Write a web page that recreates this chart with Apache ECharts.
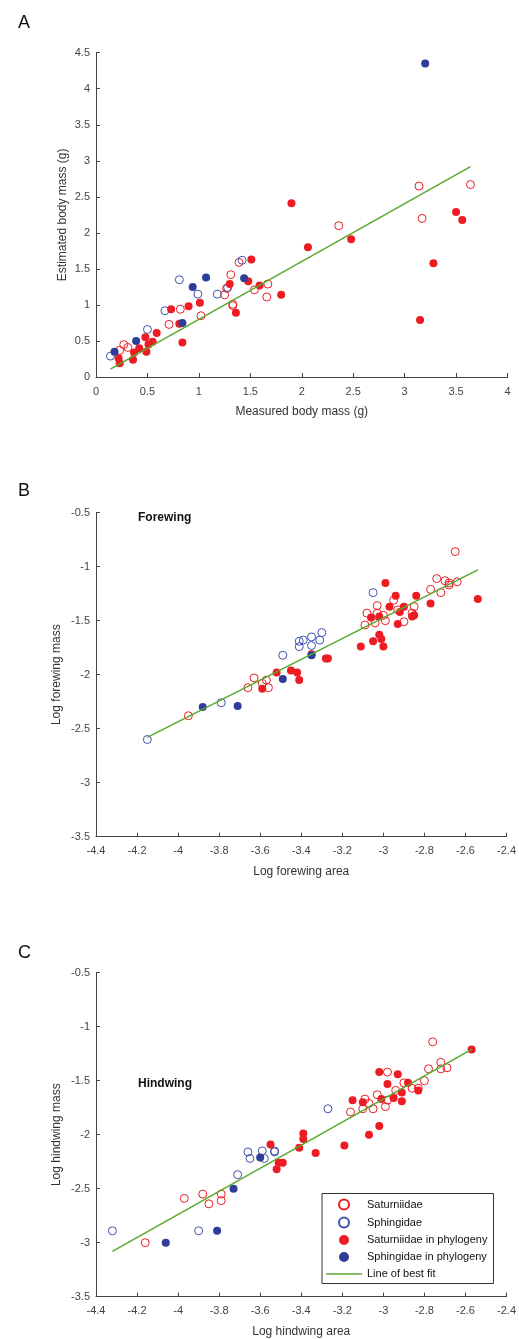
<!DOCTYPE html>
<html>
<head>
<meta charset="utf-8">
<script src="https://cdn.jsdelivr.net/npm/echarts@6/dist/echarts.min.js"></script>
<style>
    html, body { margin: 0; padding: 0; background: #fff; }
    #graph { width: 519px; height: 1339px; }
</style>
</head>
<body>
<div id="graph"></div>
<script>
"use strict"

// panel A: measured vs estimated body mass (g)
const aSatOpen = [[3.14,2.65],[3.64,2.67],[3.17,2.20],[2.36,2.10],[1.39,1.59],[1.31,1.42],[1.27,1.23],[1.25,1.14],[1.33,1.01],[1.33,0.99],[1.67,1.29],[1.66,1.11],[1.54,1.21],[1.02,0.85],[0.82,0.94],[0.71,0.73],[0.27,0.45],[0.31,0.41],[0.23,0.37]];
const aSphOpen = [[0.14,0.29],[0.50,0.66],[0.67,0.92],[0.81,1.35],[0.99,1.15],[1.18,1.15],[1.28,1.24],[1.42,1.62]];
const aSatPhy = [[1.90,2.41],[2.06,1.80],[2.48,1.91],[3.50,2.29],[3.56,2.18],[3.28,1.58],[3.15,0.79],[1.80,1.14],[1.51,1.63],[1.48,1.33],[1.59,1.27],[1.30,1.29],[1.36,0.89],[1.01,1.03],[0.90,0.98],[0.73,0.94],[0.81,0.74],[0.84,0.48],[0.59,0.61],[0.55,0.49],[0.48,0.55],[0.49,0.35],[0.42,0.40],[0.37,0.34],[0.36,0.24],[0.22,0.26],[0.23,0.19],[0.51,0.45]];
const aSphPhy = [[3.20,4.35],[0.18,0.35],[0.39,0.50],[0.84,0.75],[0.94,1.25],[1.07,1.38],[1.44,1.37]];
const aFit = [[0.14,0.11],[3.64,2.92]];

// panel B: log forewing area vs log forewing mass
const bSatOpen = [[-3.95,-2.38],[-3.66,-2.12],[-3.63,-2.03],[-3.57,-2.05],[-3.56,-2.12],[-3.59,-2.08],[-2.65,-0.86],[-2.74,-1.11],[-2.70,-1.13],[-2.68,-1.15],[-2.72,-1.24],[-2.64,-1.14],[-2.68,-1.17],[-2.77,-1.21],[-2.85,-1.37],[-2.95,-1.31],[-3.03,-1.36],[-3.08,-1.43],[-3.00,-1.45],[-3.03,-1.43],[-2.99,-1.50],[-3.09,-1.54],[-3.04,-1.52],[-2.93,-1.40],[-2.90,-1.51],[-2.86,-1.43]];
const bSphOpen = [[-4.15,-2.60],[-3.79,-2.26],[-3.49,-1.82],[-3.41,-1.69],[-3.39,-1.68],[-3.41,-1.74],[-3.35,-1.73],[-3.35,-1.65],[-3.31,-1.68],[-3.30,-1.61],[-3.05,-1.24]];
const bSatPhy = [[-3.59,-2.13],[-3.52,-1.98],[-3.45,-1.96],[-3.42,-1.98],[-3.41,-2.05],[-3.35,-1.81],[-3.28,-1.85],[-3.27,-1.85],[-3.11,-1.74],[-3.05,-1.69],[-3.02,-1.63],[-3.01,-1.67],[-3.00,-1.74],[-2.99,-1.15],[-3.06,-1.47],[-3.02,-1.46],[-2.97,-1.37],[-2.94,-1.27],[-2.93,-1.53],[-2.90,-1.37],[-2.92,-1.42],[-2.86,-1.46],[-2.85,-1.45],[-2.84,-1.27],[-2.77,-1.34],[-2.54,-1.30]];
const bSphPhy = [[-3.88,-2.30],[-3.71,-2.29],[-3.49,-2.04],[-3.35,-1.82]];
const bFit = [[-4.15,-2.58],[-2.54,-1.03]];

// panel C: log hindwing area vs log hindwing mass
const cSatOpen = [[-4.16,-3.00],[-3.97,-2.59],[-3.88,-2.55],[-3.85,-2.64],[-3.79,-2.55],[-3.79,-2.61],[-2.76,-1.14],[-2.72,-1.33],[-2.69,-1.38],[-2.72,-1.39],[-2.78,-1.39],[-2.80,-1.50],[-2.98,-1.42],[-2.90,-1.52],[-2.86,-1.57],[-2.83,-1.57],[-3.03,-1.63],[-3.09,-1.67],[-3.07,-1.71],[-3.05,-1.76],[-3.10,-1.76],[-3.16,-1.79],[-2.99,-1.74],[-2.98,-1.68],[-2.94,-1.59]];
const cSphOpen = [[-4.32,-2.89],[-3.90,-2.89],[-3.71,-2.37],[-3.66,-2.16],[-3.65,-2.22],[-3.59,-2.15],[-3.58,-2.22],[-3.53,-2.15],[-3.53,-2.16],[-3.27,-1.76]];
const cSatPhy = [[-2.57,-1.21],[-3.02,-1.42],[-2.93,-1.44],[-2.98,-1.53],[-2.88,-1.52],[-2.83,-1.59],[-2.91,-1.61],[-2.95,-1.66],[-2.91,-1.69],[-3.01,-1.67],[-3.10,-1.70],[-3.15,-1.68],[-3.02,-1.92],[-3.07,-2.00],[-3.19,-2.10],[-3.33,-2.17],[-3.39,-1.99],[-3.39,-2.04],[-3.41,-2.12],[-3.55,-2.09],[-3.52,-2.32],[-3.51,-2.26],[-3.49,-2.26]];
const cSphPhy = [[-4.06,-3.00],[-3.81,-2.89],[-3.73,-2.50],[-3.60,-2.21]];
const cFit = [[-4.32,-3.08],[-2.57,-1.21]];

const names = ["Saturniidae", "Sphingidae", "Saturniidae in phylogeny", "Sphingidae in phylogeny", "Line of best fit"];

const RED = "#ed1c24", BLUE = "#2e3d9a", BLUE_OPEN = "#4252ad", GREEN = "#5aa82c";
const FONT = "Liberation Sans, Arial, Helvetica, sans-serif";

function panelSeries(idx, satOpen, sphOpen, satPhy, sphPhy, fit)
{
    const base = { type: "scatter", xAxisIndex: idx, yAxisIndex: idx, symbolSize: 8, animation: false };
    return [
        Object.assign({}, base, { name: names[0], data: satOpen, itemStyle: { color: "rgba(0,0,0,0)", borderColor: RED, borderWidth: 1, opacity: 1 } }),
        Object.assign({}, base, { name: names[1], data: sphOpen, itemStyle: { color: "rgba(0,0,0,0)", borderColor: BLUE_OPEN, borderWidth: 1, opacity: 1 } }),
        Object.assign({}, base, { name: names[2], data: satPhy, itemStyle: { color: RED, opacity: 1 } }),
        Object.assign({}, base, { name: names[3], data: sphPhy, itemStyle: { color: BLUE, opacity: 1 } }),
        { name: names[4], type: "line", xAxisIndex: idx, yAxisIndex: idx, data: fit, symbol: "none", showSymbol: false, animation: false,
          lineStyle: { color: GREEN, width: 1.5 }, itemStyle: { color: GREEN }, z: 5 }
    ];
}

const fmt = v => String(parseFloat(v.toFixed(2)));

function xAx(idx, min, max, interval, name)
{
    return {
        type: "value", gridIndex: idx, min: min, max: max, interval: interval,
        name: name, nameLocation: "middle", nameGap: 29,
        nameTextStyle: { color: "#333", fontSize: 12, fontFamily: FONT },
        axisLine: { lineStyle: { color: "#444", width: 1 } },
        axisTick: { inside: true, length: 4, lineStyle: { color: "#444" } },
        axisLabel: { color: "#444", fontSize: 11, fontFamily: FONT, margin: 9, formatter: fmt },
        splitLine: { show: false }
    };
}

function yAx(idx, min, max, interval, name, gap)
{
    return {
        type: "value", gridIndex: idx, min: min, max: max, interval: interval,
        name: name, nameLocation: "middle", nameGap: gap, nameRotate: 90, nameMoveOverlap: false,
        nameTextStyle: { color: "#333", fontSize: 12, fontFamily: FONT },
        axisLine: { show: true, lineStyle: { color: "#444", width: 1 } },
        axisTick: { show: true, inside: true, length: 4, lineStyle: { color: "#444" } },
        axisLabel: { color: "#444", fontSize: 11, fontFamily: FONT, margin: 6, formatter: fmt },
        splitLine: { show: false }
    };
}

const myChart = echarts.init(document.getElementById("graph"), null, { renderer: "canvas" });

const option = {
    backgroundColor: "#fff",
    animation: false,
    title: [
        { text: "A", left: 13, top: 9, textStyle: { fontSize: 18, fontWeight: "normal", color: "#111", fontFamily: FONT } },
        { text: "B", left: 13, top: 477, textStyle: { fontSize: 18, fontWeight: "normal", color: "#111", fontFamily: FONT } },
        { text: "C", left: 13, top: 939, textStyle: { fontSize: 18, fontWeight: "normal", color: "#111", fontFamily: FONT } },
        { text: "Forewing", left: 133, top: 507, textStyle: { fontSize: 12, fontWeight: "bold", color: "#111", fontFamily: FONT } },
        { text: "Hindwing", left: 133, top: 1073, textStyle: { fontSize: 12, fontWeight: "bold", color: "#111", fontFamily: FONT } }
    ],
    grid: [
        { left: 96, right: 11.5, top: 52.7, height: 324.3 },
        { left: 96, right: 11.5, top: 512.7, height: 324 },
        { left: 96, right: 11.5, top: 972.7, height: 324 }
    ],
    xAxis: [
        xAx(0, 0, 4, 0.5, "Measured body mass (g)"),
        xAx(1, -4.4, -2.4, 0.2, "Log forewing area"),
        xAx(2, -4.4, -2.4, 0.2, "Log hindwing area")
    ],
    yAxis: [
        yAx(0, 0, 4.5, 0.5, "Estimated body mass (g)", 27),
        yAx(1, -3.5, -0.5, 0.5, "Log forewing mass", 33),
        yAx(2, -3.5, -0.5, 0.5, "Log hindwing mass", 33)
    ],
    legend: {
        data: names.map(n => n === names[4] ? { name: n, icon: "path://M0,0h36v1.5h-36z" } : n),
        orient: "vertical", left: 322, top: 1193.5,
        itemWidth: 36, itemHeight: 10, itemGap: 6,
        padding: [5, 6, 4, 4], borderColor: "#333", borderWidth: 1, borderRadius: 0,
        backgroundColor: "#fff",
        textStyle: { color: "#111", fontSize: 11, fontFamily: FONT },
        selectedMode: false
    },
    series: [].concat(
        panelSeries(0, aSatOpen, aSphOpen, aSatPhy, aSphPhy, aFit),
        panelSeries(1, bSatOpen, bSphOpen, bSatPhy, bSphPhy, bFit),
        panelSeries(2, cSatOpen, cSphOpen, cSatPhy, cSphPhy, cFit)
    )
};

myChart.setOption(option);
</script>
</body>
</html>
